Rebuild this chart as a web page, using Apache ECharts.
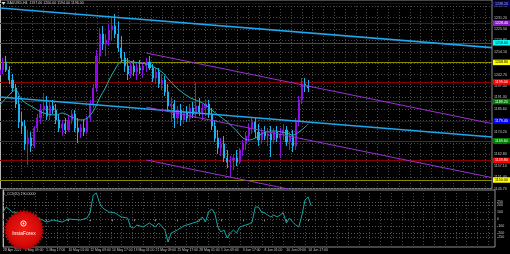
<!DOCTYPE html>
<html><head><meta charset="utf-8">
<script src="https://cdn.jsdelivr.net/npm/echarts@6.0.0/dist/echarts.min.js"></script>
<style>html,body{margin:0;padding:0;background:#000;}#c{width:510px;height:254px;}</style>
</head><body><div id="c"></div>
<script>
// ---- data ----
const xTickLabels = ['28 Apr 2021','3 May 09:00','5 May 17:00','10 May 01:00','12 May 09:00','14 May 17:00','19 May 01:00','21 May 09:00','25 May 17:00','28 May 01:00','1 Jun 09:00','3 Jun 17:00','8 Jun 01:00','10 Jun 09:00','14 Jun 17:00'];
// [open, close, low, high]
const candles = [
[1202.5,1205,1199,1206],[1205,1209,1203,1211],[1209,1205,1204,1212],[1205,1200,1198,1207],[1200,1196,1194,1203],
[1196,1188,1186,1198],[1188,1179,1176,1192],[1179,1177,1173,1184],[1177,1168,1165,1180],[1168,1171,1157.5,1175],
[1171,1167,1164,1174],[1167,1176,1166,1177],[1176,1181,1174,1183],[1181,1185,1178,1188],[1185,1187,1182,1193.5],
[1187,1182,1180,1192],[1182,1187,1180,1189],[1187,1185,1183,1190],[1185,1180,1178,1188],[1180,1176,1174,1183],
[1176,1178,1172,1180],[1178,1175,1173,1181],[1175,1180,1174,1182],[1180,1183,1178,1185],[1183,1176,1174,1185],
[1176,1174,1168.5,1181],[1174,1176,1171,1178],[1176,1174,1172,1180],[1174,1181,1173,1182],[1181,1188,1179,1190],
[1188,1196,1186,1198],[1196,1212,1194,1215],[1212,1223,1208,1226],[1223,1218,1215,1227],[1218,1220,1212,1223],
[1220,1225,1217,1228],[1225,1227,1220,1231],[1227,1223,1221,1233],[1223,1216,1214,1229],[1216,1211,1209,1222],
[1211,1207,1204,1214],[1207,1203,1200,1211],[1203,1207,1201,1209],[1207,1204,1202,1210],[1204,1206,1200,1209],
[1206,1205,1203,1210],[1205,1207,1201,1209],[1207,1209,1204,1211],[1209,1206,1205,1212],[1206,1201,1199,1208],
[1201,1204,1198,1206],[1204,1198,1196,1206],[1198,1200,1195,1203],[1200,1194,1192,1202],[1194,1187,1184,1198],
[1187,1188,1179,1191],[1188,1181,1176,1190],[1181,1185,1178,1187],[1185,1180,1177,1188],[1180,1184,1178,1186],
[1184,1181,1179,1187],[1181,1186,1179,1188],[1186,1183,1181,1189],[1183,1187,1181,1198.5],[1187,1184,1182,1191],
[1184,1186,1180,1188],[1186,1188,1182,1190],[1188,1183,1181,1190],[1183,1177,1175,1186],[1177,1171,1169,1180],
[1171,1166,1163,1175],[1166,1168,1162,1171],[1168,1161,1159,1172],[1161,1159,1156,1165],[1159,1160,1151,1162],
[1160,1161,1155,1163],[1161,1159,1157,1165],[1159,1165,1158,1166],[1165,1168,1162,1170],[1168,1172,1165,1174],
[1172,1176,1169,1178],[1176,1179,1173,1181],[1179,1174,1171,1181],[1174,1170,1167,1178],[1170,1174,1168,1176],
[1174,1172,1170,1177],[1172,1173,1167,1176],[1173,1170,1161.5,1177],[1170,1174,1168,1176],[1174,1171,1169,1177],
[1171,1173,1161,1176],[1173,1175,1170,1178],[1175,1169,1167,1177],[1169,1172,1165,1174],[1172,1167,1164,1175],
[1167,1179,1165,1181],[1179,1190,1177,1192],[1190,1198,1188,1201],[1198,1197,1194,1201],[1197,1196,1194,1200]
];
// moving average read at sample bars [barIndex, value]
const maPoints = [[0,1187.5],[2,1191],[5,1195],[7,1190],[11,1186],[14,1183.5],[18,1182.5],[20,1183.5],[23,1181.5],[26,1180],[28,1181],[30,1184.5],[32,1191],[34,1196.5],[35,1200],[37,1205.5],[38,1208],[40,1210],[42,1209.2],[45,1208.5],[48,1207.5],[52,1204],[54,1200.5],[57,1195.7],[61,1191.2],[65,1188.5],[70,1182.5],[73,1179],[76,1174.5],[78,1171],[80,1170],[82,1171],[85,1173.8],[88,1174.5],[92,1173.5],[94,1172.5],[96,1174],[98,1176.5],[99,1178]];
// CCI(20) read at sample bars
const cciPoints = [[0,104],[1,176],[3,104],[6,90],[10,47],[14,-39],[16,-10],[19,-39],[21,4],[25,-10],[27,19],[28,104],[29,347],[30,376],[31,233],[32,161],[34,104],[36,90],[38,33],[40,19],[41,-110],[42,-124],[43,-81],[45,-110],[47,-53],[49,-110],[50,-53],[52,-153],[53,-324],[54,-196],[56,-153],[58,-96],[61,-53],[63,-24],[64,33],[65,-39],[66,104],[67,147],[68,90],[69,-110],[70,-181],[71,-153],[72,-267],[73,-196],[74,-153],[75,-196],[76,-110],[77,-96],[78,-81],[79,-67],[80,-39],[81,176],[82,176],[83,104],[84,90],[85,61],[86,33],[87,61],[88,33],[89,61],[90,90],[91,-53],[92,19],[93,-39],[94,-81],[95,-110],[96,61],[97,276],[98,319],[99,190]];
// Murrey levels, bottom to top
const levels = [1150.0,1159.8,1169.6,1179.4,1189.2,1199.0,1208.8,1218.6,1228.4,1238.2];
const levelNames = ['[1/8]','[2/8]','[3/8]','[4/8]','[5/8]','[6/8]','[7/8]','[8/8]','[+1/8]','[+2/8]'];
// trend lines [[barIndex, price],[barIndex, price]]
const cyanLines = [[[0,1236.0],[158,1216.2]],[[0,1191.5],[158,1171.5]]];
const purpleLines = [[[47,1213.5],[158,1178.2]],[[47,1186.5],[158,1151.2]],[[47,1160.0],[158,1124.7]]];
const cciLevels = [250,200,100,0,-100,-200,-250];
const priceMin = 1145.7, priceMax = 1240, priceStep = 5.7;
const cciMin = -395.7, cciMax = 418.6;
const nBars = 159;

// ---- styles ----
const levelLineCols = ['#8a8a00','#8b0000','#005a00','#0a0a8c','#005a00','#8b0000','#8a8a00','#0e6464','#4e0a78','#0a0a70'];
const levelBoxCols  = ['#ffff00','#ff0000','#008000','#0000ff','#008000','#ff0000','#ffff00','#00ffff','#8c1ccc','#000080'];
const levelTxtCols  = ['#000','#fff','#fff','#fff','#fff','#fff','#000','#000','#fff','#aaa'];
const levelLblCols  = ['#a0a000','#c00000','#008000','#2020c0','#008000','#c00000','#a0a000','#108a8a','#7a1aa0','#14148a'];
const FONT = 'Liberation Sans, Arial, sans-serif';

const cats = Array.from({length:nBars},(_,i)=>String(i));
const showTick = (idx)=> idx % 7 === 0 && idx/7 < xTickLabels.length;
const gridLine = {show:true, lineStyle:{color:'#474747', type:[1,2], width:1}};
const last = candles[candles.length-1];
const lastCci = cciPoints[cciPoints.length-1][1];

const levelMarks = levels.map((v,k)=>({
  yAxis:v, lineStyle:{color:levelLineCols[k], width:1, type:'solid'},
  label:{show:true, position:'end', distance:1, formatter:v.toFixed(2), backgroundColor:levelBoxCols[k], color:levelTxtCols[k], fontSize:3.6, fontFamily:FONT, padding:[1,3,0.5,2]}
}));
levelMarks.push({yAxis:last[1], lineStyle:{opacity:0}, label:{show:true, position:'end', distance:1, formatter:last[1].toFixed(2), backgroundColor:'#ffffff', color:'#000', fontSize:3.6, fontFamily:FONT, padding:[1,3,0.5,2]}});

const cciMarks = cciLevels.map(v=>({yAxis:v, lineStyle:{color:'#5a5a5a', type:[1,2], width:1}, label:{show:true, position:'end', distance:2, formatter:String(v), color:'#c8c8c8', fontSize:3.6, fontFamily:FONT}}));
cciMarks.push({yAxis:cciMax-12, lineStyle:{opacity:0}, label:{show:true, position:'end', distance:2, formatter:cciMax.toFixed(4), color:'#c8c8c8', fontSize:3.6, fontFamily:FONT}});
cciMarks.push({yAxis:cciMin+2, lineStyle:{opacity:0}, label:{show:true, position:'end', distance:2, formatter:cciMin.toFixed(4), color:'#c8c8c8', fontSize:3.6, fontFamily:FONT}});

const series = [];
series.push({type:'candlestick', xAxisIndex:0, yAxisIndex:0, data:candles, barWidth:1.6, z:3,
  itemStyle:{color:'#9200ea', color0:'#1cb4ee', borderColor:'#8a10e6', borderColor0:'#1cb4ee', borderWidth:1},
  markLine:{z:1, symbol:'none', silent:true, animation:false, data:levelMarks}});
series.push({type:'line', xAxisIndex:0, yAxisIndex:0, data:maPoints, smooth:0.35, showSymbol:false, symbol:'none', z:6, lineStyle:{color:'#22b4b0', width:1}});
cyanLines.forEach(l=>series.push({type:'line', xAxisIndex:0, yAxisIndex:0, data:l, symbol:'none', z:7, lineStyle:{color:'#1ea6ee', width:1.6}}));
purpleLines.forEach(l=>series.push({type:'line', xAxisIndex:0, yAxisIndex:0, data:l, symbol:'none', z:7, lineStyle:{color:'#9a30d6', width:1}}));
series.push({type:'scatter', xAxisIndex:0, yAxisIndex:0, symbolSize:1, itemStyle:{opacity:0}, z:8,
  data:levels.map((v,k)=>({value:[97,v], label:{show:true, color:levelLblCols[k], formatter:levelNames[k], position:[0,0.5], align:'left', verticalAlign:'top', fontSize:3.6, fontFamily:FONT}}))});
series.push({type:'line', xAxisIndex:1, yAxisIndex:1, data:cciPoints, symbol:'none', z:5, lineStyle:{color:'#17a4a4', width:1},
  markLine:{z:1, symbol:'none', silent:true, animation:false, data:cciMarks}});

// logo star
const logoPts = [];
for (let k=0;k<72;k++){const a=k*Math.PI/36; const r=(k%2)?18:20.5; logoPts.push([24+r*Math.cos(a), 230+r*Math.sin(a)]);}

const option = {
  backgroundColor:'#000', animation:false,
  grid:[
    {left:0, right:15, top:0, height:188.6, show:true, borderColor:'#8c8c8c', borderWidth:1},
    {left:0, right:15, top:190, height:57, show:true, borderColor:'#8c8c8c', borderWidth:1}
  ],
  xAxis:[
    {type:'category', gridIndex:0, data:cats, boundaryGap:false, show:false},
    {type:'category', gridIndex:1, data:cats, boundaryGap:false, axisLine:{show:false},
      axisTick:{show:true, length:2, interval:showTick, lineStyle:{color:'#8c8c8c'}},
      axisLabel:{interval:showTick, formatter:(v)=>xTickLabels[parseInt(v,10)/7]||'', fontSize:3.4, fontFamily:FONT, color:'#c8c8c8', align:'left', margin:2},
      splitLine:{show:false}},
    {type:'value', gridIndex:0, min:0, max:495, interval:10.85, axisLine:{show:false}, axisTick:{show:false}, axisLabel:{show:false}, splitLine:gridLine},
    {type:'value', gridIndex:1, min:0, max:495, interval:10.85, axisLine:{show:false}, axisTick:{show:false}, axisLabel:{show:false}, splitLine:gridLine}
  ],
  yAxis:[
    {type:'value', gridIndex:0, position:'right', min:priceMin, max:priceMax, interval:priceStep,
      axisLine:{show:true, lineStyle:{color:'#b4b4b4'}}, axisTick:{show:false},
      axisLabel:{fontSize:3.6, fontFamily:FONT, color:'#c8c8c8', margin:2, showMaxLabel:false, formatter:(v)=>v.toFixed(2)},
      splitLine:gridLine},
    {type:'value', gridIndex:1, position:'right', min:cciMin, max:cciMax,
      axisLine:{show:true, lineStyle:{color:'#b4b4b4'}}, axisTick:{show:false}, axisLabel:{show:false}, splitLine:{show:false}}
  ],
  graphic:[
    {type:'polygon', z:50, shape:{points:[[1.5,2],[5.5,2],[3.5,5]]}, style:{fill:'#dcdcdc'}},
    {type:'text', z:50, x:7, y:1.2, style:{text:'XAUUSD,H4  '+last[0].toFixed(2)+' '+last[3].toFixed(2)+' '+last[2].toFixed(2)+' '+last[1].toFixed(2), fill:'#d4d4d4', font:'3.6px '+FONT}},
    {type:'text', z:50, x:3, y:191.5, style:{text:'1_CCI(20) '+lastCci.toFixed(4), fill:'#d4d4d4', font:'3.6px '+FONT}},
    {type:'polygon', z:60, shape:{points:logoPts}, style:{fill:new echarts.graphic.RadialGradient(0.5,0.5,0.5,[{offset:0,color:'#f21c10'},{offset:0.75,color:'#d40a0a'},{offset:1,color:'#a80000'}])}},
    {type:'circle', z:61, shape:{cx:23.5, cy:223.5, r:2.6}, style:{fill:'none', stroke:'#ffffff', lineWidth:1}},
    {type:'circle', z:61, shape:{cx:23.5, cy:223.5, r:0.9}, style:{fill:'#ffffff'}},
    {type:'text', z:61, x:24, y:233.5, style:{text:'InstaForex', fill:'#ffffff', font:'5px '+FONT, align:'center', verticalAlign:'middle'}}
  ],
  series:series
};
const chart = echarts.init(document.getElementById('c'), null, {renderer:'canvas'});
chart.setOption(option);
</script>
</body></html>
